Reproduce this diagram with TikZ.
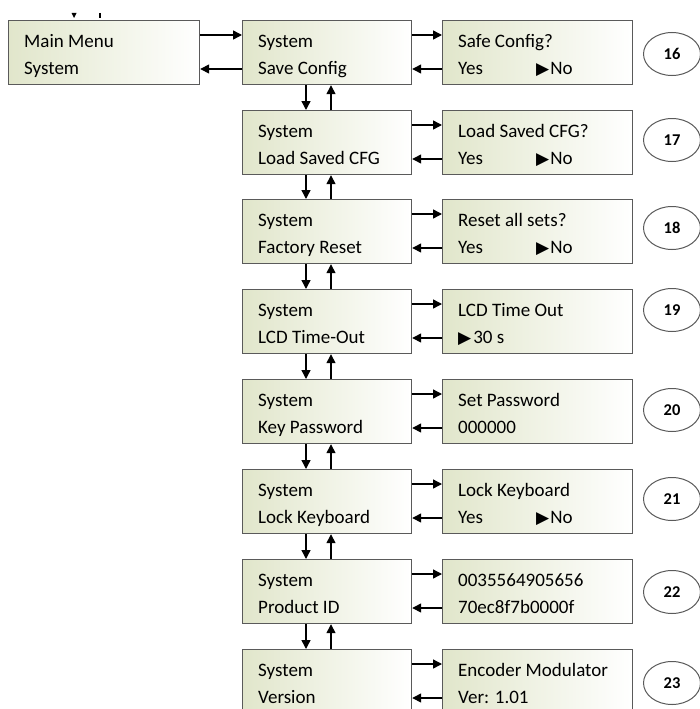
\documentclass[tikz,border=0pt]{standalone}
\usepackage{fontspec}
\setmainfont{Carlito}
\newfontfamily\djv{DejaVu Sans}
\usetikzlibrary{arrows.meta,calc,shapes.geometric}
\definecolor{boxl}{HTML}{E1E6CB}
\definecolor{boxedge}{HTML}{5A5A5A}
\tikzset{
  box/.style={draw=boxedge, line width=1.2pt, left color=boxl, right color=white,
    anchor=north west, minimum height=64pt, inner sep=0pt},
  txt/.style={anchor=base west, inner sep=0pt, font=\fontsize{19}{19}\selectfont},
  num/.style={draw=boxedge, line width=1pt, ellipse, minimum width=57pt, minimum height=43pt,
    inner sep=0pt, font=\fontsize{16.5}{16.5}\selectfont\bfseries},
  arr/.style={-{Triangle[length=9pt,width=9pt]}, line width=1.4pt},
}
\newcommand{\tri}{{\djv\fontsize{17}{17}\selectfont ▶}}
\newcommand{\yn}{\makebox[78pt][l]{Yes}\tri\hspace{1pt}No}
\newcommand{\panel}[6]{%
  \node[box,minimum width=#4] (#1) at (#2,#3) {};
  \node[txt] (#1a) at ([shift={(16pt,-27.5pt)}]#1.north west) {#5};
  \node[txt] (#1b) at ([shift={(16pt,-54.5pt)}]#1.north west) {#6};}
\begin{document}
\begin{tikzpicture}[x=1pt,y=-1pt]
\useasboundingbox (0,0) rectangle (700,709);
\clip (0,0) rectangle (700,709);
\panel{m}{8}{20}{191pt}{Main Menu}{System}
\panel{b1}{242}{20}{169pt}{System}{Save Config}
\panel{b2}{242}{110}{169pt}{System}{Load Saved CFG}
\panel{b3}{242}{199}{169pt}{System}{Factory Reset}
\panel{b4}{242}{289}{169pt}{System}{LCD Time-Out}
\panel{b5}{242}{379}{169pt}{System}{Key Password}
\panel{b6}{242}{469}{169pt}{System}{Lock Keyboard}
\panel{b7}{242}{559}{169pt}{System}{Product ID}
\panel{b8}{242}{649}{169pt}{System}{Version}
\panel{c1}{442}{20}{190pt}{Safe Config?}{\yn}
\panel{c2}{442}{110}{190pt}{Load Saved CFG?}{\yn}
\panel{c3}{442}{199}{190pt}{Reset all sets?}{\yn}
\panel{c4}{442}{289}{190pt}{LCD Time Out}{\tri\hspace{2pt}30 s}
\panel{c5}{442}{379}{190pt}{Set Password}{000000}
\panel{c6}{442}{469}{190pt}{Lock Keyboard}{\yn}
\panel{c7}{442}{559}{190pt}{0035564905656}{70ec8f7b0000f}
\panel{c8}{442}{649}{190pt}{Encoder Modulator}{Ver: 1.01}
\node[num] (n16) at (672,54) {16};
\node[num] (n17) at (672,140) {17};
\node[num] (n18) at (672,228) {18};
\node[num] (n19) at (672,310) {19};
\node[num] (n20) at (672,410) {20};
\node[num] (n21) at (672,499) {21};
\node[num] (n22) at (672,592) {22};
\node[num] (n23) at (672,683) {23};
% main <-> b1
\draw[arr] ([yshift=-15pt]m.north east) -- ([yshift=-15pt]b1.north west);
\draw[arr] ([yshift=-49pt]b1.north west) -- ([yshift=-49pt]m.north east);
% b -> c
\foreach \i in {1,...,8}{
  \draw[arr] ([yshift=-15pt]b\i.north east) -- ([yshift=-15pt]c\i.north west);
  \draw[arr] ([yshift=-49pt]c\i.north west) -- ([yshift=-49pt]b\i.north east);
}
% vertical
\foreach \i/\j in {1/2,2/3,3/4,4/5,5/6,6/7,7/8}{
  \draw[arr] ([xshift=64pt]b\i.south west) -- ([xshift=64pt]b\j.north west);
  \draw[arr] ([xshift=89pt]b\j.north west) -- ([xshift=89pt]b\i.south west);
}
% cut-off fragments above main menu
\fill (71.5,13) -- (76.5,13) -- (74,18) -- cycle;
\draw[line width=1.4pt] (100,13) -- (100,18);
\end{tikzpicture}
\end{document}
